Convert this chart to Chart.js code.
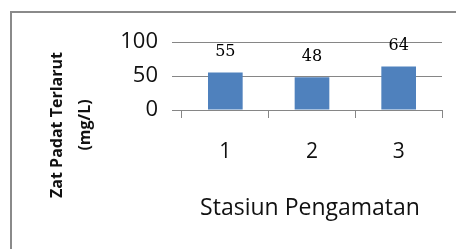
<!DOCTYPE html>
<html>
<head>
<meta charset="utf-8">
<script src="https://cdn.jsdelivr.net/npm/chart.js@4/dist/chart.umd.min.js"></script>
<style>
  html, body { margin: 0; padding: 0; background: #fff; }
  #wrap { width: 456px; height: 249px; }
</style>
</head>
<body>
<div id="wrap"><canvas id="tdsChart" width="456" height="249"></canvas></div>
<script>
const stations = ["1", "2", "3"];
const tdsValues = [55, 48, 64];
const yTicks = [0, 50, 100];
const xTitle = "Stasiun Pengamatan";
const yTitle = ["Zat Padat Terlarut", "(mg/L)"];

const gridGray = "#868686";

// frame, axis titles and value labels drawn on the canvas
const extras = {
  id: "extras",
  beforeDraw(chart) {
    const c = chart.ctx;
    c.save();
    c.fillStyle = "#fff";
    c.fillRect(0, 0, chart.width, chart.height);
    c.strokeStyle = "#8a8a8a";
    c.lineWidth = 2;
    c.beginPath();
    c.moveTo(11, chart.height);
    c.lineTo(11, 12);
    c.lineTo(chart.width, 12);
    c.stroke();
    c.restore();
  },
  afterDraw(chart) {
    const c = chart.ctx;
    c.save();
    c.fillStyle = "#111";
    c.textAlign = "center";
    c.textBaseline = "middle";

    c.font = "23px 'Open Sans'";
    c.fillText(xTitle, 310, 208);

    c.font = "bold 16px 'Open Sans'";
    c.translate(0, 125);
    c.rotate(-Math.PI / 2);
    c.fillText(yTitle[0], 0, 57);
    c.fillText(yTitle[1], 0, 85);
    c.restore();

    c.save();
    c.fillStyle = "#000";
    c.textAlign = "center";
    c.textBaseline = "middle";
    c.font = "16px 'DejaVu Serif'";
    chart.getDatasetMeta(0).data.forEach((bar, i) => {
      c.fillText(String(tdsValues[i]), bar.x, bar.y - 21);
    });
    c.restore();
  }
};

new Chart(document.getElementById("tdsChart"), {
  type: "bar",
  data: {
    labels: stations,
    datasets: [{
      data: tdsValues,
      backgroundColor: "#4F81BD",
      borderWidth: 0,
      barPercentage: 0.4,
      categoryPercentage: 1
    }]
  },
  options: {
    responsive: false,
    animation: false,
    events: [],
    layout: { padding: { top: 42, right: 14, left: 0, bottom: 0 } },
    plugins: {
      legend: { display: false },
      tooltip: { enabled: false }
    },
    scales: {
      x: {
        afterFit(scale) { scale.height = 139; },
        grid: {
          offset: true,
          drawOnChartArea: false,
          drawTicks: true,
          tickLength: 8,
          color: gridGray
        },
        border: { display: true, color: gridGray },
        ticks: {
          color: "#111",
          font: { family: "'Open Sans'", size: 21 },
          padding: 21
        }
      },
      y: {
        min: 0,
        max: 100,
        afterFit(scale) { scale.width = 182; },
        afterBuildTicks(scale) {
          scale.ticks = yTicks.map(v => ({ value: v }));
        },
        grid: {
          color: gridGray,
          drawTicks: true,
          tickLength: 10
        },
        border: { display: false },
        ticks: {
          color: "#111",
          font: { family: "'Open Sans'", size: 22 },
          padding: 14
        }
      }
    }
  },
  plugins: [extras]
});
</script>
</body>
</html>
